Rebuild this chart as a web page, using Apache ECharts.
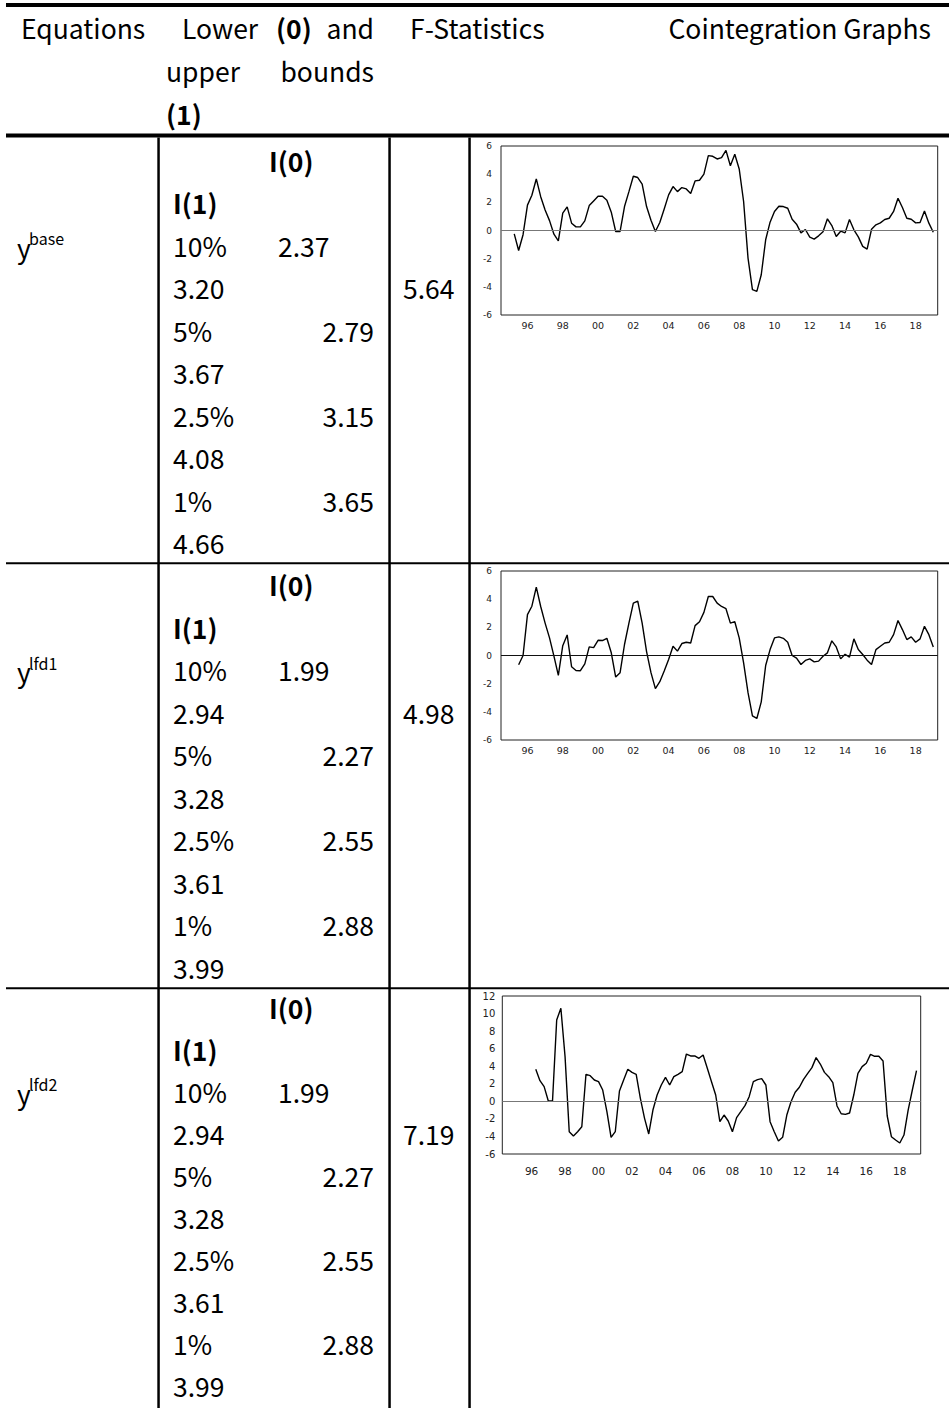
<!DOCTYPE html>
<html>
<head>
<meta charset="utf-8">
<title>ARDL bounds test and cointegration graphs</title>
<script src="https://cdn.jsdelivr.net/npm/echarts@6/dist/echarts.min.js"></script>
<style>
  html, body { margin: 0; padding: 0; background: #fff; }
  #main { width: 949px; height: 1408px; }
</style>
</head>
<body>
<div id="main"></div>
<script>
// ---- table content ----
const headerTitles = ['Equations', 'F-Statistics', 'Cointegration Graphs'];
const eqSuperscripts = ['base', 'lfd1', 'lfd2'];
const fStatistics = ['5.64', '4.98', '7.19'];
const sigLevels = ['10%', '5%', '2.5%', '1%'];
const lowerBounds = [
  ['2.37', '2.79', '3.15', '3.65'],
  ['1.99', '2.27', '2.55', '2.88'],
  ['1.99', '2.27', '2.55', '2.88']
];
const upperBounds = [
  ['3.20', '3.67', '4.08', '4.66'],
  ['2.94', '3.28', '3.61', '3.99'],
  ['2.94', '3.28', '3.61', '3.99']
];

// ---- graph content (quarterly residual series) ----
const yearTickLabels = ['96', '98', '00', '02', '04', '06', '08', '10', '12', '14', '16', '18'];
const yTicksSmall = { min: -6, max: 6, step: 2 };
const yTicksLarge = { min: -6, max: 12, step: 2 };

const ybaseStart = '1995Q2';
const ybaseValues = [
  -0.24, -1.42, -0.3, 1.8, 2.5, 3.66, 2.4, 1.46, 0.7, -0.26,
  -0.73, 1.23, 1.68, 0.52, 0.26, 0.26, 0.68, 1.77, 2.1, 2.43,
  2.43, 2.15, 1.3, -0.07, -0.07, 1.7, 2.76, 3.85, 3.76,
  3.3, 1.7, 0.73, -0.07, 0.57, 1.53, 2.53, 3.12, 2.76, 3.05,
  2.95, 2.62, 3.52, 3.57, 4.0, 5.32, 5.27, 5.08, 5.17, 5.69,
  4.6, 5.41, 4.37, 2.06, -1.96, -4.2, -4.32, -3.14, -0.66, 0.59,
  1.35, 1.72, 1.7, 1.58, 0.8, 0.45, -0.17, 0.07, -0.47,
  -0.61, -0.38, -0.09, 0.83, 0.35, -0.43, -0.05, -0.17, 0.78, 0.05,
  -0.45, -1.13, -1.32, 0.09, 0.4, 0.54, 0.78, 0.87, 1.35, 2.29,
  1.63, 0.87, 0.8, 0.54, 0.57, 1.39, 0.52, -0.12
];

const ylfd1Start = '1995Q3';
const ylfd1Values = [
  -0.66, 0, 2.9, 3.5, 4.85, 3.48, 2.3, 1.25, -0.05, -1.41,
  0.7, 1.46, -0.8, -1.06, -1.08, -0.59, 0.61, 0.56, 1.08, 1.06,
  1.22, 0.19, -1.53, -1.22, 0.78, 2.3, 3.72, 3.86, 2.3,
  0.28, -1.22, -2.35, -1.86, -1.1, -0.28, 0.66, 0.31, 0.85, 0.94,
  0.89, 2.12, 2.4, 3.06, 4.19, 4.19, 3.72, 3.48, 3.32, 2.3,
  2.4, 1.25, -0.52, -2.64, -4.28, -4.47, -3.29, -0.71, 0.42, 1.25,
  1.32, 1.22, 0.94, 0, -0.19, -0.64, -0.35, -0.24, -0.45, -0.4,
  -0.05, 0.19, 1.04, 0.61, -0.24, 0.09, -0.12, 1.18, 0.42, 0.07,
  -0.33, -0.64, 0.42, 0.66, 0.89, 0.94, 1.48, 2.49, 1.84,
  1.13, 1.32, 0.94, 1.18, 2.07, 1.48, 0.61
];

const ylfd2Start = '1996Q2';
const ylfd2Values = [
  3.65, 2.35, 1.67, 0.04, 0.04, 9.27, 10.6, 5.09, -3.46, -3.95,
  -3.46, -2.89, 3.08, 2.92, 2.43, 2.24, 1.29, -1.18, -4.1, -3.46,
  1.18, 2.43, 3.65, 3.3, 3.08, 0.34, -1.94, -3.72, -0.99, 0.72,
  1.86, 2.73, 1.86, 2.81, 3.08, 3.38, 5.39, 5.17, 5.17, 4.9,
  5.28, 3.76, 2.24, 0.72, -2.32, -1.56, -2.24, -3.46, -1.86, -1.18,
  -0.49, 0.53, 2.24, 2.47, 2.58, 1.86, -2.32, -3.46, -4.52, -4.1,
  -1.56, -0.04, 1.03, 1.6, 2.51, 3.19, 3.84, 4.98, 4.25, 3.3,
  2.81, 2.13, -0.53, -1.41, -1.48, -1.33, 0.72, 3.19, 3.95, 4.33,
  5.35, 5.13, 5.13, 4.6, -1.67, -4.03, -4.41, -4.75, -3.84, -0.99,
  1.29, 3.49
];

// ---- helpers ----
function quarterRange(from, to) {
  const out = [];
  let y = +from.slice(0, 4), q = +from.slice(5);
  const ey = +to.slice(0, 4), eq = +to.slice(5);
  while (y < ey || (y === ey && q <= eq)) {
    out.push(y + 'Q' + q);
    q++; if (q > 4) { q = 1; y++; }
  }
  return out;
}
function seriesPairs(start, values) {
  const qs = quarterRange(start, '2030Q4');
  return values.map((v, i) => [qs[i], v]);
}

const axisQuartersAB = quarterRange('1994Q3', '2019Q2');
const axisQuartersC = quarterRange('1994Q2', '2019Q2');

const FONT = '"Noto Sans CJK SC", "Noto Sans", sans-serif';
const TXT = 26.5;

function txt(x, y, s, o) {
  o = o || {};
  const size = o.size || TXT;
  return {
    type: 'text', x: x, y: y, silent: true,
    style: {
      text: s,
      fontFamily: FONT,
      fontSize: size,
      lineHeight: Math.round(size * 1.05),
      fontWeight: o.bold ? 'bold' : 'normal',
      fill: '#000',
      textAlign: o.align || 'left',
      textVerticalAlign: 'middle'
    }
  };
}
function bar(x, y, w, h) {
  return { type: 'rect', silent: true, shape: { x: x, y: y, width: w, height: h }, style: { fill: '#000' } };
}

// ---- table rules and text ----
const graphics = [];
graphics.push(bar(6, 3, 943, 4));        // top rule
graphics.push(bar(6, 133.5, 943, 4));    // header rule
graphics.push(bar(6, 562.3, 943, 2));    // row rules
graphics.push(bar(6, 987.3, 943, 2));
[157.3, 388.3, 468.3].forEach(function (x) { graphics.push(bar(x, 137.5, 2.5, 1408 - 137.5)); });

// header
const hy = [27, 70, 113];
graphics.push(txt(21, hy[0], headerTitles[0]));
graphics.push(txt(182, hy[0], 'Lower'));
graphics.push(txt(276, hy[0], '(0)', { bold: true }));
graphics.push(txt(374, hy[0], 'and', { align: 'right' }));
graphics.push(txt(166, hy[1], 'upper'));
graphics.push(txt(374, hy[1], 'bounds', { align: 'right' }));
graphics.push(txt(166, hy[2], '(1)', { bold: true }));
graphics.push(txt(410, hy[0], headerTitles[1]));
graphics.push(txt(931, hy[0], headerTitles[2], { align: 'right' }));

// body rows (the last row is spaced slightly tighter so it stays on the page)
const rowFirstLine = [160, 584.5, 1007];
const rowLineStep = [42.5, 42.5, 42.1];
for (let r = 0; r < 3; r++) {
  const y0 = rowFirstLine[r];
  const line = function (i) { return y0 + rowLineStep[r] * i; };
  graphics.push(txt(269, line(0), 'I(0)', { bold: true }));
  graphics.push(txt(173, line(1), 'I(1)', { bold: true }));
  for (let k = 0; k < 4; k++) {
    graphics.push(txt(173, line(2 + 2 * k), sigLevels[k]));
    if (k === 0) graphics.push(txt(278, line(2), lowerBounds[r][k]));
    else graphics.push(txt(374, line(2 + 2 * k), lowerBounds[r][k], { align: 'right' }));
    graphics.push(txt(173, line(3 + 2 * k), upperBounds[r][k]));
  }
  graphics.push(txt(403, line(3), fStatistics[r]));
  graphics.push(txt(17, line(2) + 2, 'y'));
  graphics.push(txt(29, line(2) - 7, eqSuperscripts[r], { size: 16 }));
}

// ---- graphs ----
const grids = [
  { left: 501, top: 146, width: 436.7, height: 169 },
  { left: 501, top: 571, width: 436.7, height: 169 },
  { left: 502.3, top: 996, width: 418.4, height: 158 }
];
const axisCats = [axisQuartersAB, axisQuartersAB, axisQuartersC];
const yTicks = [yTicksSmall, yTicksSmall, yTicksLarge];
const series = [
  seriesPairs(ybaseStart, ybaseValues),
  seriesPairs(ylfd1Start, ylfd1Values),
  seriesPairs(ylfd2Start, ylfd2Values)
];
const zeroColor = ['#777', '#111', '#777'];
const labelSize = [9.5, 9.5, 10.5];
const xLabelMargin = [5, 5, 11];

const option = {
  animation: false,
  backgroundColor: '#fff',
  graphic: { elements: graphics },
  grid: grids.map(function (g) {
    return Object.assign({ show: true, borderColor: '#222', borderWidth: 1, backgroundColor: 'transparent', containLabel: false }, g);
  }),
  xAxis: axisCats.map(function (cats, i) {
    return {
      type: 'category', gridIndex: i, data: cats, boundaryGap: false,
      axisLine: { show: false }, axisTick: { show: false }, splitLine: { show: false },
      axisLabel: {
        interval: function (idx, val) {
          return val.slice(5) === '1' && yearTickLabels.indexOf(val.slice(2, 4)) >= 0;
        },
        formatter: function (val) { return val.slice(2, 4); },
        fontFamily: 'DejaVu Sans', fontSize: labelSize[i], color: '#222', margin: xLabelMargin[i]
      }
    };
  }),
  yAxis: yTicks.map(function (t, i) {
    return {
      type: 'value', gridIndex: i, min: t.min, max: t.max, interval: t.step,
      axisLine: { show: false }, axisTick: { show: false }, splitLine: { show: false },
      axisLabel: { fontFamily: 'DejaVu Sans', fontSize: labelSize[i] - 0.5, color: '#222', margin: i === 2 ? 7 : 9 }
    };
  }),
  series: series.map(function (d, i) {
    return {
      type: 'line', xAxisIndex: i, yAxisIndex: i, data: d,
      showSymbol: false, symbol: 'none', silent: true,
      lineStyle: { color: '#000', width: 1.4 },
      markLine: {
        silent: true, symbol: 'none', label: { show: false },
        lineStyle: { color: zeroColor[i], width: 1, type: 'solid' },
        data: [{ yAxis: 0 }]
      }
    };
  })
};

const chart = echarts.init(document.getElementById('main'), null, { renderer: 'svg', width: 949, height: 1408 });
chart.setOption(option);
</script>
</body>
</html>
